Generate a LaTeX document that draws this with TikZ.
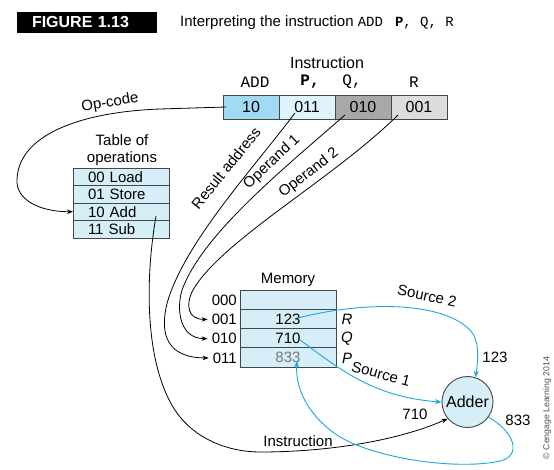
\documentclass[tikz,border=0pt]{standalone}
\usepackage{fontspec}
\setmainfont{Liberation Sans}
\setmonofont{Liberation Mono}
\usetikzlibrary{arrows.meta}
\definecolor{bordergray}{RGB}{70,70,70}
\definecolor{cellA}{RGB}{160,218,243}
\definecolor{cellB}{RGB}{222,243,252}
\definecolor{cellC}{RGB}{168,168,168}
\definecolor{cellD}{RGB}{220,220,220}
\definecolor{lightcell}{RGB}{213,238,248}
\definecolor{arrowblue}{RGB}{25,168,222}
\definecolor{valgray}{RGB}{120,120,120}
\definecolor{copygray}{RGB}{80,80,80}
\begin{document}
\begin{tikzpicture}[x=1pt,y=-1pt,
  lbl/.style={font=\fontsize{15}{18}\selectfont, inner sep=0pt},
  monolbl/.style={font=\ttfamily\fontsize{16}{19}\selectfont, inner sep=0pt},
  cellbox/.style={draw=bordergray, line width=0.9pt, minimum width=56pt, minimum height=24pt,
    inner sep=0pt, outer sep=0pt, font=\fontsize{16}{19}\selectfont},
  trow/.style={draw=bordergray, fill=lightcell, line width=0.9pt, minimum width=96pt,
    text width=66pt, inner xsep=15pt, inner ysep=0pt, minimum height=17.5pt, align=left,
    outer sep=0pt, font=\fontsize{15}{18}\selectfont},
  mrow/.style={draw=bordergray, fill=lightcell, line width=0.9pt, minimum width=96pt,
    minimum height=19.25pt, inner sep=0pt, outer sep=0pt, font=\fontsize{15}{18}\selectfont},
  link/.style={line width=0.8pt, draw=black, -{Stealth[length=6pt,width=4.5pt]}},
  blink/.style={line width=0.9pt, draw=arrowblue, -{Stealth[length=6.5pt,width=5pt]}},
  wire/.style={line width=0.8pt, draw=black}
]
\useasboundingbox (0,0) rectangle (554,470);
\fill[white] (0,0) rectangle (554,470);

% header
\node[fill=black, text=white, font=\bfseries\fontsize{16}{19}\selectfont, minimum width=140pt,
  minimum height=21pt, text width=110pt, inner xsep=15pt, inner ysep=0pt, align=left] (fig) at (87,22.5) {FIGURE 1.13};
\node[anchor=west, lbl] (title) at (180,23) {Interpreting the instruction {\ttfamily\fontsize{14}{17}\selectfont ADD\hspace{12pt}\textbf{P}, Q, R}};

% instruction register
\node[lbl, font=\fontsize{16}{19}\selectfont] (instr) at (327,63) {Instruction};
\node[monolbl] (mADD) at (255,82) {ADD};
\node[monolbl] (mP) at (310,82) {\textbf{P,}};
\node[monolbl] (mQ) at (352,82) {Q,};
\node[monolbl] (mR) at (414,82) {R};
\node[cellbox, fill=cellA] (c10) at (251,107) {10};
\node[cellbox, fill=cellB] (c011) at (307,107) {011};
\node[cellbox, fill=cellC] (c010) at (363,107) {010};
\node[cellbox, fill=cellD] (c001) at (419,107) {001};

% table of operations
\node[align=center, font=\fontsize{15}{17}\selectfont, inner sep=0pt] (ttl) at (122,150) {Table of\\operations};
\node[trow] (t00) at (121,176.75) {00 Load};
\node[trow] (t01) at (121,194.25) {01 Store};
\node[trow] (t10) at (121,211.75) {10 Add};
\node[trow] (t11) at (121,229.25) {11 Sub};

% memory
\node[lbl] (memlbl) at (288,280) {Memory};
\node[mrow] (m000) at (288,299.6) {};
\node[mrow] (m001) at (288,318.9) {123};
\node[mrow] (m010) at (288,338.1) {710};
\node[mrow, text=valgray] (m011) at (288,357.4) {833};
\node[lbl, anchor=east] (a000) at (237,300.6) {000};
\node[lbl, anchor=east] (a001) at (237,319.4) {001};
\node[lbl, anchor=east] (a010) at (237,338.6) {010};
\node[lbl, anchor=east] (a011) at (237,357.9) {011};
\node[lbl, font=\itshape\fontsize{15}{18}\selectfont] (nR) at (347,319.4) {R};
\node[lbl, font=\itshape\fontsize{15}{18}\selectfont] (nQ) at (347,338.6) {Q};
\node[lbl, font=\itshape\fontsize{15}{18}\selectfont] (nP) at (347,357.9) {P};

% adder
\node[circle, draw=bordergray, fill=lightcell, line width=0.9pt, minimum size=51pt, inner sep=0pt,
  font=\fontsize{16}{19}\selectfont] (adder) at (467.5,402) {Adder};

% labels
\node[lbl, rotate=10] (lop) at (110,103) {Op-code};
\node[lbl, rotate=51] (lres) at (226,168) {Result address};
\node[lbl, rotate=43] (lop1) at (272,162) {Operand 1};
\node[lbl, rotate=38] (lop2) at (309,173) {Operand 2};
\node[lbl, rotate=-12] (ls2) at (427,296) {Source 2};
\node[lbl, rotate=-15] (ls1) at (381,374) {Source 1};
\node[lbl] (v123) at (495,357) {123};
\node[lbl] (v710) at (415,414) {710};
\node[lbl] (v833) at (518,420) {833};
\node[lbl] (linstr) at (298,441) {Instruction};
\node[rotate=90, text=copygray, font=\fontsize{8.7}{10}\selectfont, inner sep=0pt] (copy) at (547,408) {\textcopyright{} Cengage Learning 2014};

% coordinates
\coordinate (opst) at (226,107);
\coordinate (resst) at (295,113);
\coordinate (o1st) at (345,115);
\coordinate (o2st) at (398,115);
\coordinate (inst) at (156,216);
\coordinate (s2st) at (298,318);
\coordinate (s1st) at (300,340);
\coordinate (retend) at (297,361);

% connectors (black)
\draw[link] (opst) -- (160,109) .. controls (80,112) and (18,135) .. (17,180)
  .. controls (16,200) and (40,211.75) .. (t10.west);
\draw[link] (resst) .. controls (252,170) and (187,240) .. (168,300)
  .. controls (158,335) and (168,357.9) .. ([xshift=-4pt]a011.west);
\draw[link] (o1st) .. controls (282,170) and (202,235) .. (182,290)
  .. controls (176,310) and (180,338.6) .. ([xshift=-4pt]a010.west);
\draw[link] (o2st) .. controls (332,180) and (222,240) .. (193,290)
  .. controls (185,305) and (188,319.4) .. ([xshift=-4pt]a001.west);
\draw[link] (inst) .. controls (145,280) and (145,360) .. (173,407)
  .. controls (193,440) and (230,452) .. (260,452)
  .. controls (330,452) and (400,440) .. (adder.220);

% connectors (blue)
\draw[blink] (s2st) .. controls (360,302) and (440,300) .. (470,330)
  .. controls (480,340) and (478,360) .. (adder.72);
\draw[blink] (s1st) .. controls (335,365) and (370,397) .. (adder.west);
\draw[blink] (adder.-36) .. controls (515,432) and (522,456) .. (500,461)
  .. controls (460,470) and (380,460) .. (340,437)
  .. controls (310,418) and (295,390) .. (retend);
\end{tikzpicture}
\end{document}
